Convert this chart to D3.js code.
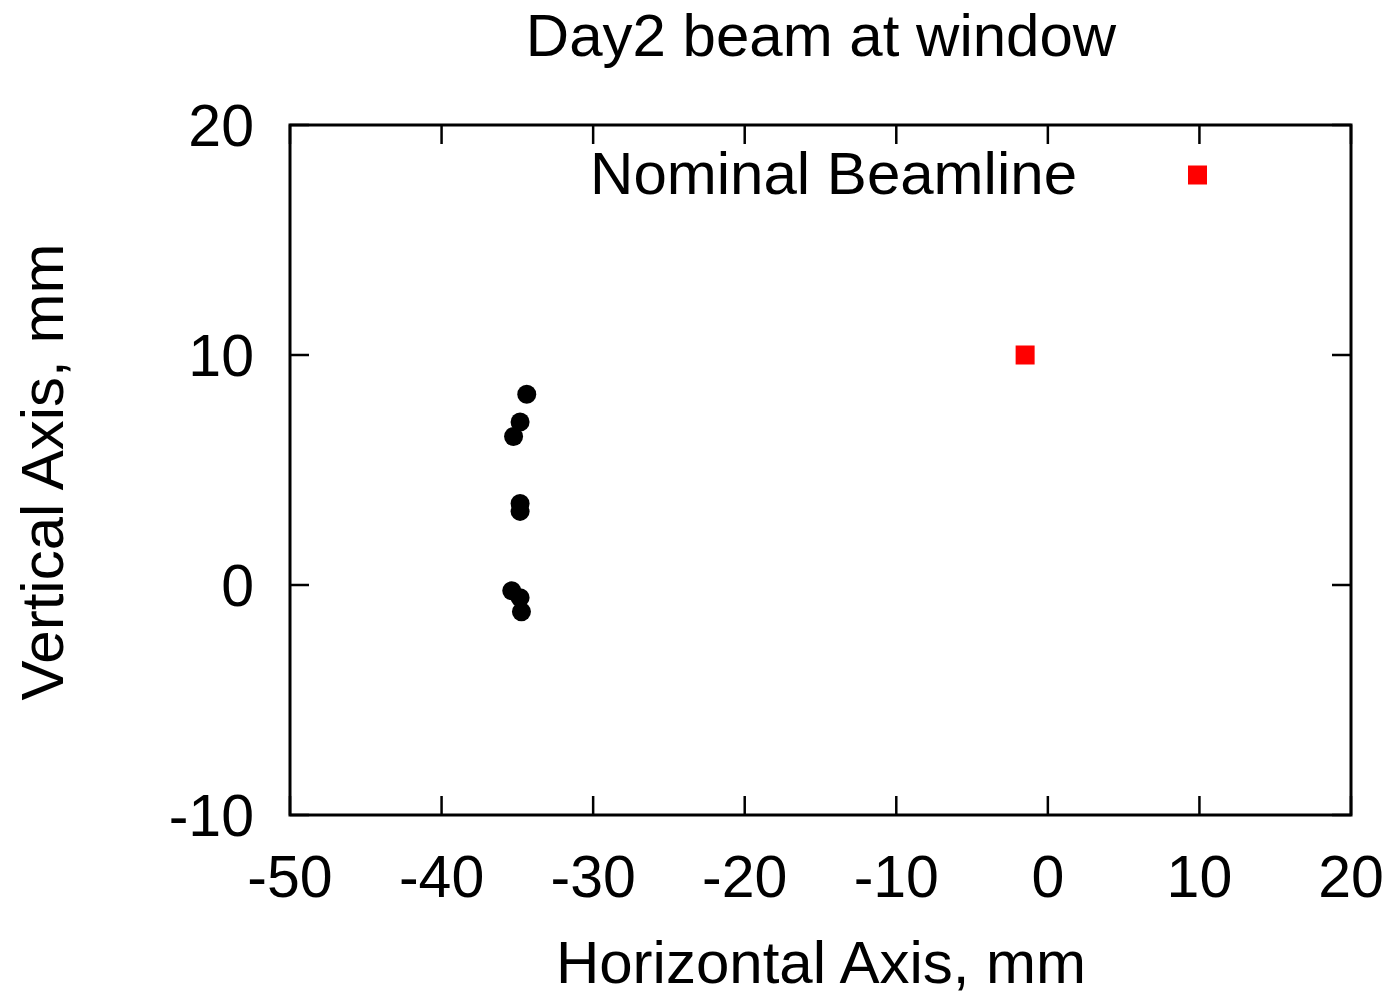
<!DOCTYPE html>
<html><head><meta charset="utf-8">
<script src="https://cdn.jsdelivr.net/npm/d3@7"></script>
<style>
html,body{margin:0;padding:0;background:#fff;}
svg text{font-family:"Liberation Sans",Arial,Helvetica,sans-serif;fill:#000;}
</style></head>
<body><svg id="c" width="1400" height="997"></svg>
<script>
const title = "Day2 beam at window";
const xLabel = "Horizontal Axis, mm";
const yLabel = "Vertical Axis, mm";
const legendLabel = "Nominal Beamline";
const xTicks = [-50, -40, -30, -20, -10, 0, 10, 20];
const yTicks = [-10, 0, 10, 20];
const beamX = [-34.38, -34.82, -35.25, -34.82, -34.82, -35.37, -34.82, -34.73];
const beamY = [8.29, 7.09, 6.46, 3.54, 3.20, -0.25, -0.55, -1.16];
const nominalX = [-1.5];
const nominalY = [10.0];

const svg = d3.select("#c");
const L = 290, R = 1351, T = 125, B = 815;
const x = d3.scaleLinear().domain([-50, 20]).range([L, R]);
const y = d3.scaleLinear().domain([-10, 20]).range([B, T]);
const FS = 60, TFS = 59, tickLen = 19;

// ticks (inward, mirrored)
const tk = svg.append("g").attr("stroke", "#000").attr("stroke-width", 2.5);
xTicks.forEach(v => {
  tk.append("line").attr("x1", x(v)).attr("x2", x(v)).attr("y1", B).attr("y2", B - tickLen);
  tk.append("line").attr("x1", x(v)).attr("x2", x(v)).attr("y1", T).attr("y2", T + tickLen);
});
yTicks.forEach(v => {
  tk.append("line").attr("y1", y(v)).attr("y2", y(v)).attr("x1", L).attr("x2", L + tickLen);
  tk.append("line").attr("y1", y(v)).attr("y2", y(v)).attr("x1", R).attr("x2", R - tickLen);
});

// frame
svg.append("rect").attr("x", L).attr("y", T).attr("width", R - L).attr("height", B - T)
  .attr("fill", "none").attr("stroke", "#000").attr("stroke-width", 3);

// tick labels
svg.append("g").selectAll("text").data(xTicks).join("text")
  .attr("x", d => x(d)).attr("y", 897).attr("text-anchor", "middle")
  .attr("font-size", TFS).text(d => d);
svg.append("g").selectAll("text").data(yTicks).join("text")
  .attr("x", 254).attr("y", d => y(d) + 21).attr("text-anchor", "end")
  .attr("font-size", TFS).text(d => d);

// labels
svg.append("text").attr("x", 821).attr("y", 56).attr("text-anchor", "middle")
  .attr("font-size", FS).text(title);
svg.append("text").attr("x", 821).attr("y", 983).attr("text-anchor", "middle")
  .attr("font-size", FS).text(xLabel);
svg.append("text").attr("transform", "translate(63,472) rotate(-90)")
  .attr("text-anchor", "middle").attr("font-size", FS).text(yLabel);

// legend
svg.append("text").attr("x", 1077).attr("y", 194).attr("text-anchor", "end")
  .attr("font-size", FS).text(legendLabel);
svg.append("rect").attr("x", 1197.5 - 9.5).attr("y", 175 - 9.5).attr("width", 19).attr("height", 19)
  .attr("fill", "#ff0000");

// data
svg.append("g").selectAll("circle").data(beamX.map((v, i) => [v, beamY[i]])).join("circle")
  .attr("cx", d => x(d[0])).attr("cy", d => y(d[1])).attr("r", 9.5).attr("fill", "#000");
svg.append("g").selectAll("rect").data(nominalX.map((v, i) => [v, nominalY[i]])).join("rect")
  .attr("x", d => x(d[0]) - 9.5).attr("y", d => y(d[1]) - 9.5)
  .attr("width", 19).attr("height", 19).attr("fill", "#ff0000");
</script></body></html>
